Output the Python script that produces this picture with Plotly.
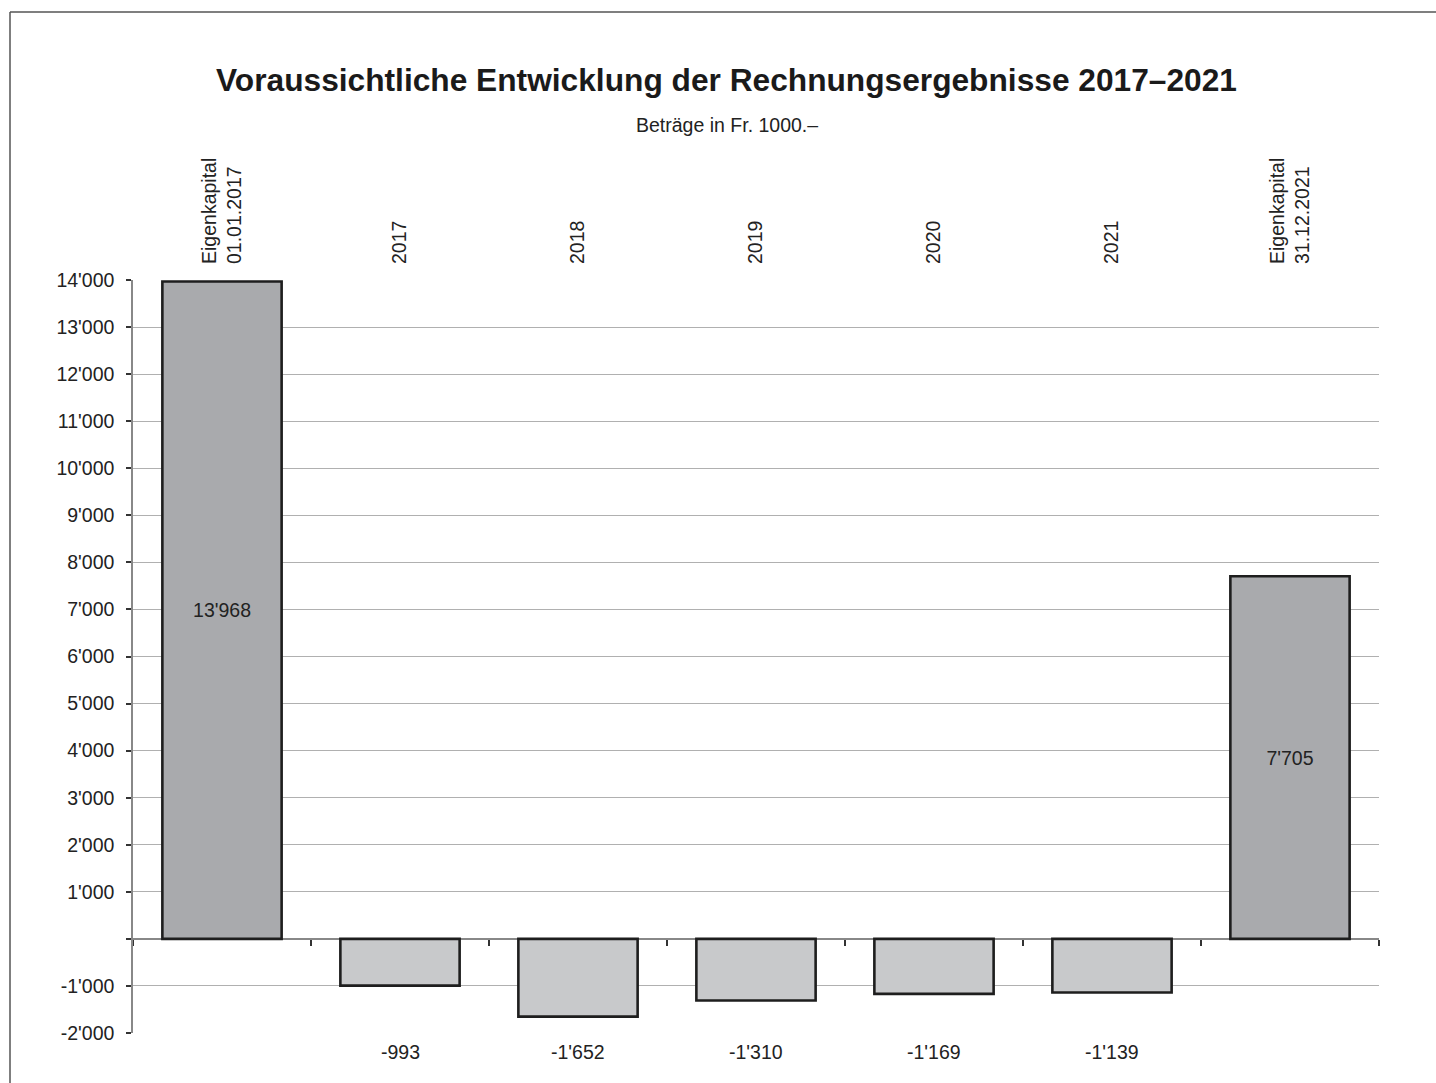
import plotly.graph_objects as go

categories = ["Eigenkapital<br>01.01.2017", "2017", "2018", "2019", "2020", "2021", "Eigenkapital<br>31.12.2021"]
values = [13968, -993, -1652, -1310, -1169, -1139, 7705]
ytick_vals = list(range(-2000, 14001, 1000))
ytick_text = ["" if v == 0 else f"{v:,}".replace(",", "'") for v in ytick_vals]

def fmt(v):
    return f"{v:,}".replace(",", "'")

pos_color = "#a9aaad"
neg_color = "#c8c9cb"
colors = [pos_color if v >= 0 else neg_color for v in values]
font_family = "Liberation Sans, Arial, sans-serif"
fs = 19.5

fig = go.Figure()
fig.add_trace(go.Bar(
    x=categories, y=values, width=0.67,
    marker=dict(color=colors, line=dict(color="#1e1e1e", width=2.6)),
    text=[fmt(v) if v >= 0 else "" for v in values],
    textposition="inside", insidetextanchor="middle",
    textfont=dict(size=fs, color="#222", family=font_family),
    textangle=0, hoverinfo="skip", showlegend=False,
))
# invisible trace for the tick-mark axis at zero
fig.add_trace(go.Scatter(x=[0], y=[0], xaxis="x2", mode="markers",
                         marker=dict(opacity=0), showlegend=False, hoverinfo="skip"))

for i, v in enumerate(values):
    if v < 0:
        fig.add_annotation(x=i, y=-2000, text=fmt(v), showarrow=False,
                           xref="x", yref="y",
                           yanchor="top", yshift=-6,
                           font=dict(size=fs, color="#222", family=font_family))

ymin, ymax = -2000, 14000
fig.update_layout(
    width=1436, height=1083,
    margin=dict(l=133, r=57, t=280, b=50),
    paper_bgcolor="white", plot_bgcolor="white",
    font=dict(family=font_family, color="#222"),
    title=dict(text="<b>Voraussichtliche Entwicklung der Rechnungsergebnisse 2017–2021</b>",
               x=726.5 / 1436, xanchor="center", y=1 - 80 / 1083, yanchor="middle",
               yref="container", xref="container",
               font=dict(size=31.7, color="#1a1a1a", family=font_family)),
    bargap=0.33,
    xaxis=dict(side="top", type="category", range=[-0.5, 6.5],
               tickangle=-90, ticks="", showline=False, showgrid=False,
               tickfont=dict(size=fs, color="#222"), ticklabelstandoff=15),
    xaxis2=dict(overlaying="x", anchor="free",
                position=(0 - ymin) / (ymax - ymin),
                range=[-0.5, 6.5], tickvals=[i - 0.5 for i in range(8)],
                showticklabels=False, ticks="outside", ticklen=6, tickwidth=1.5,
                tickcolor="#333", showline=True, linecolor="#888", linewidth=1.5,
                showgrid=False, zeroline=False, side="bottom", layer="below traces"),
    yaxis=dict(range=[ymin, ymax], tickvals=ytick_vals, ticktext=ytick_text,
               showgrid=True, gridcolor="#b0b0b0", gridwidth=1.2,
               zeroline=False, showline=True, linecolor="#888", linewidth=1.5,
               ticks="outside", ticklen=5, tickcolor="#333", tickwidth=1.5,
               ticklabelstandoff=8,
               tickfont=dict(size=fs, color="#222")),
)

fig.add_annotation(text="Beträge in Fr. 1000.–", xref="paper", yref="paper",
                   x=(727 - 133) / 1246, y=(1033 - 125) / 753, showarrow=False,
                   xanchor="center", yanchor="middle",
                   font=dict(size=fs, color="#222", family=font_family))

# outer frame (left and top edges visible)
fx0 = (10 - 133) / 1246
fy0 = (1033 - 12) / 753
fig.add_shape(type="line", xref="paper", yref="paper", x0=fx0, x1=fx0, y0=fy0, y1=-0.2,
              line=dict(color="#555", width=1.5))
fig.add_shape(type="line", xref="paper", yref="paper", x0=fx0, x1=1.2, y0=fy0, y1=fy0,
              line=dict(color="#555", width=1.5))

fig.write_html("out.html", config={"displayModeBar": False},
               post_script="document.body.style.margin='0';")
